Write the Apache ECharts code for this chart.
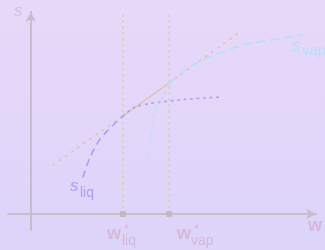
<!DOCTYPE html>
<html>
<head>
<meta charset="utf-8">
<script src="https://cdn.jsdelivr.net/npm/echarts@6/dist/echarts.min.js"></script>
<style>
  html, body { margin: 0; padding: 0; }
  #chart { width: 325px; height: 250px; }
</style>
</head>
<body>
<div id="chart"></div>
<script>
// compositions of the two coexisting phases
var wLiq = 3.23;
var wVap = 4.85;
var topS = 7.96;

// [w, s] points
var liqSolid = [[1.83, 1.48], [2.01, 2.08], [2.22, 2.60], [2.46, 3.04], [2.78, 3.44], [3.23, 3.92]];
var liqExtra = [[3.23, 3.92], [3.65, 4.28], [3.93, 4.36], [4.28, 4.44], [4.88, 4.52], [5.58, 4.60], [6.63, 4.68]];
var vapSolid = [[4.85, 5.24], [5.69, 5.96], [6.63, 6.44], [7.44, 6.76], [8.39, 6.96], [9.54, 7.16]];
var vapExtra = [[4.11, 2.36], [4.25, 3.36], [4.35, 4.08], [4.60, 4.64], [4.85, 5.24]];
var tangentSolid = [[3.23, 3.92], [4.85, 5.24]];
var tangentLeft = [[0.78, 1.96], [3.23, 3.92]];
var tangentRight = [[4.85, 5.24], [7.27, 7.24]];

var chart = echarts.init(document.getElementById('chart'));

var liqColor = '#ab9ff1';
var vapColor = '#b8e0f8';
var tanColor = '#dcc6a2';
var guideColor = '#d8d0b2';
var axisColor = '#c6bec9';
var wColor = '#d6b8d8';

function line (data, color, type, width, smooth) {
  return {
    type: 'line',
    data: data,
    symbol: 'none',
    smooth: smooth,
    silent: true,
    lineStyle: { color: color, type: type, width: width, cap: 'round' },
    z: 3
  };
}

var option = {
  animation: false,
  backgroundColor: {
    type: 'linear', x: 0, y: 0, x2: 0, y2: 1,
    colorStops: [{ offset: 0, color: '#e8d8f9' }, { offset: 1, color: '#ddd4fa' }]
  },
  grid: { left: 8, right: 9, top: 12, bottom: 20 },
  xAxis: {
    type: 'value', min: -0.8, max: 10,
    axisLine: { onZero: true, symbol: ['none', 'arrow'], symbolSize: [8, 10], lineStyle: { color: axisColor, width: 2 } },
    axisTick: { show: false }, axisLabel: { show: false }, splitLine: { show: false }
  },
  yAxis: {
    type: 'value', min: -0.64, max: 8.08,
    axisLine: { onZero: true, symbol: ['none', 'arrow'], symbolSize: [8, 10], lineStyle: { color: axisColor, width: 2 } },
    axisTick: { show: false }, axisLabel: { show: false }, splitLine: { show: false }
  },
  series: [
    line([[wLiq, 0], [wLiq, topS]], guideColor, [1.5, 4.5], 1.5, false),
    line([[wVap, 0], [wVap, topS]], guideColor, [1.5, 4.5], 1.5, false),
    line(tangentLeft, tanColor, [1.5, 6], 1.5, false),
    line(tangentRight, tanColor, [1.5, 6], 1.5, false),
    line(tangentSolid, tanColor, 'solid', 1.5, false),
    line(liqSolid, liqColor, [6, 6], 1.6, 0.4),
    line(liqExtra, liqColor, [1.5, 5], 1.6, 0.4),
    line(vapExtra, vapColor, [1.5, 5], 1.6, 0.4),
    line(vapSolid, vapColor, [8, 6], 1.8, 0.4),
    {
      type: 'scatter',
      data: [[wLiq, 0], [wVap, 0]],
      symbol: 'rect',
      symbolSize: 6,
      silent: true,
      itemStyle: { color: '#bcb4bc' },
      z: 4
    }
  ],
  graphic: [
    { type: 'text', left: 14, top: 3, style: { text: 's', font: 'italic 17px "Liberation Sans"', fill: '#d0c2e2' } },
    { type: 'text', left: 308, top: 217, style: { text: 'w', font: 'bold 18px "Liberation Sans"', fill: wColor } },
    { type: 'text', left: 107, top: 225, style: { text: 'w', font: 'bold 18px "Liberation Sans"', fill: wColor } },
    { type: 'text', left: 124, top: 223, style: { text: '*', font: '13px "Liberation Sans"', fill: wColor } },
    { type: 'text', left: 122, top: 234, style: { text: 'liq', font: '14px "Liberation Sans"', fill: wColor } },
    { type: 'text', left: 177, top: 225, style: { text: 'w', font: 'bold 18px "Liberation Sans"', fill: wColor } },
    { type: 'text', left: 194, top: 223, style: { text: '*', font: '13px "Liberation Sans"', fill: wColor } },
    { type: 'text', left: 191, top: 234, style: { text: 'vap', font: '14px "Liberation Sans"', fill: wColor } },
    { type: 'text', left: 70, top: 178, style: { text: 's', font: 'italic 17px "Liberation Sans"', fill: liqColor } },
    { type: 'text', left: 80, top: 186, style: { text: 'liq', font: '14px "Liberation Sans"', fill: liqColor } },
    { type: 'text', left: 291, top: 36, style: { text: 's', font: 'italic 19px "Liberation Sans"', fill: vapColor } },
    { type: 'text', left: 302, top: 43, style: { text: 'vap', font: '15px "Liberation Sans"', fill: vapColor } }
  ]
};

chart.setOption(option);
window.addEventListener('resize', function () {
  chart.resize();
});
</script>
</body>
</html>
